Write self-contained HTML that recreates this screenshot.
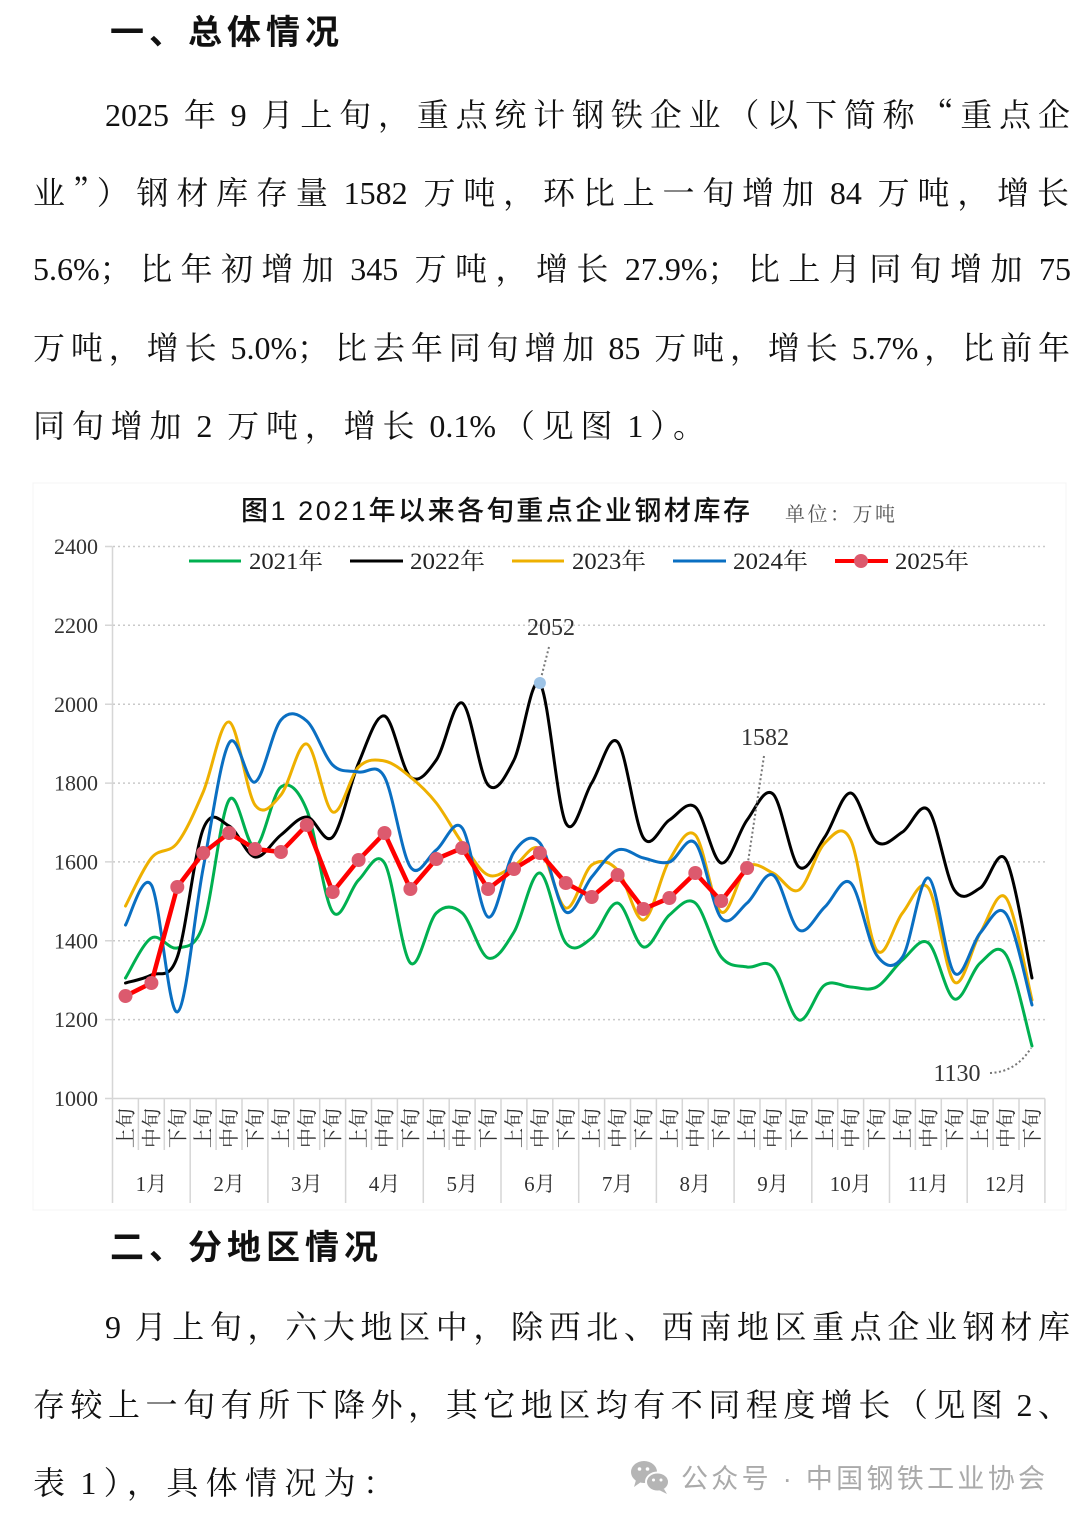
<!DOCTYPE html>
<html><head><meta charset="utf-8">
<style>
html,body{margin:0;padding:0;background:#fff;}
body{width:1080px;height:1522px;position:relative;overflow:hidden;}
svg{position:absolute;left:0;top:0;}
.p{position:absolute;font-family:"Liberation Serif","Noto Serif CJK SC",serif;font-size:32px;line-height:40px;height:40px;text-align:justify;text-align-last:justify;color:#111;}
.p .g{margin-left:8px;}
.p .q{font-family:"Noto Serif CJK SC",serif;}
.h{position:absolute;font-family:"Liberation Sans","Noto Sans CJK SC",sans-serif;font-weight:bold;font-size:34px;line-height:40px;letter-spacing:5px;color:#111;white-space:nowrap;}
.rl text{font-family:"Liberation Serif","Noto Serif CJK SC",serif;font-size:20px;fill:#333;text-anchor:middle;}
.ml text{font-family:"Liberation Serif","Noto Serif CJK SC",serif;font-size:21px;fill:#333;text-anchor:middle;}
.yl text{font-family:"Liberation Serif",serif;font-size:22px;fill:#333;text-anchor:end;}
.lg text{font-family:"Liberation Serif","Noto Serif CJK SC",serif;font-size:23px;fill:#222;}
</style></head>
<body>
<svg width="1080" height="1522" viewBox="0 0 1080 1522" xmlns="http://www.w3.org/2000/svg">
<rect x="33" y="483" width="1033" height="727" fill="none" stroke="#f4f4f4" stroke-width="1"/>
<text x="241" y="520" textLength="509" lengthAdjust="spacing" font-family="Liberation Sans, Noto Sans CJK SC, sans-serif" font-size="27" font-weight="500" fill="#111">图1  2021年以来各旬重点企业钢材库存</text>
<text x="785" y="521" textLength="110" lengthAdjust="spacing" font-family="Liberation Serif, Noto Serif CJK SC, serif" font-size="20" fill="#555">单位：万吨</text>
<g stroke="#c9c9c9" stroke-width="1.5" stroke-dasharray="2,3">
<line x1="113" y1="546.5" x2="1045" y2="546.5"/>
<line x1="113" y1="625.3" x2="1045" y2="625.3"/>
<line x1="113" y1="704.2" x2="1045" y2="704.2"/>
<line x1="113" y1="783.1" x2="1045" y2="783.1"/>
<line x1="113" y1="861.9" x2="1045" y2="861.9"/>
<line x1="113" y1="940.8" x2="1045" y2="940.8"/>
<line x1="113" y1="1019.6" x2="1045" y2="1019.6"/>
</g>
<g stroke="#d6d6d6" stroke-width="1.5" fill="none">
<line x1="112.5" y1="546.5" x2="112.5" y2="1098.5"/>
<line x1="105" y1="1098.5" x2="1045" y2="1098.5"/>
<path d="M105,546.5H112.5M105,625.3H112.5M105,704.2H112.5M105,783.1H112.5M105,861.9H112.5M105,940.8H112.5M105,1019.6H112.5"/>
<path d="M112.5,1098.5V1203M190.2,1098.5V1203M267.9,1098.5V1203M345.6,1098.5V1203M423.3,1098.5V1203M501,1098.5V1203M578.7,1098.5V1203M656.4,1098.5V1203M734.1,1098.5V1203M811.8,1098.5V1203M889.5,1098.5V1203M967.2,1098.5V1203M1044.9,1098.5V1203"/>
<path d="M138.4,1098.5V1150M164.3,1098.5V1150M216.1,1098.5V1150M242,1098.5V1150M293.8,1098.5V1150M319.7,1098.5V1150M371.5,1098.5V1150M397.4,1098.5V1150M449.2,1098.5V1150M475.1,1098.5V1150M526.9,1098.5V1150M552.8,1098.5V1150M604.6,1098.5V1150M630.5,1098.5V1150M682.3,1098.5V1150M708.2,1098.5V1150M760,1098.5V1150M785.9,1098.5V1150M837.7,1098.5V1150M863.6,1098.5V1150M915.4,1098.5V1150M941.3,1098.5V1150M993.1,1098.5V1150M1019,1098.5V1150"/>
</g>
<g class="yl">
<text x="98" y="554">2400</text>
<text x="98" y="633">2200</text>
<text x="98" y="712">2000</text>
<text x="98" y="790.5">1800</text>
<text x="98" y="869.5">1600</text>
<text x="98" y="948.5">1400</text>
<text x="98" y="1027">1200</text>
<text x="98" y="1106">1000</text>
</g>
<g class="rl">
<text transform="translate(125.5,1128) rotate(-90)" y="7">上旬</text>
<text transform="translate(151.4,1128) rotate(-90)" y="7">中旬</text>
<text transform="translate(177.3,1128) rotate(-90)" y="7">下旬</text>
<text transform="translate(203.2,1128) rotate(-90)" y="7">上旬</text>
<text transform="translate(229.1,1128) rotate(-90)" y="7">中旬</text>
<text transform="translate(255.0,1128) rotate(-90)" y="7">下旬</text>
<text transform="translate(280.9,1128) rotate(-90)" y="7">上旬</text>
<text transform="translate(306.8,1128) rotate(-90)" y="7">中旬</text>
<text transform="translate(332.7,1128) rotate(-90)" y="7">下旬</text>
<text transform="translate(358.6,1128) rotate(-90)" y="7">上旬</text>
<text transform="translate(384.5,1128) rotate(-90)" y="7">中旬</text>
<text transform="translate(410.4,1128) rotate(-90)" y="7">下旬</text>
<text transform="translate(436.3,1128) rotate(-90)" y="7">上旬</text>
<text transform="translate(462.2,1128) rotate(-90)" y="7">中旬</text>
<text transform="translate(488.1,1128) rotate(-90)" y="7">下旬</text>
<text transform="translate(514.0,1128) rotate(-90)" y="7">上旬</text>
<text transform="translate(539.9,1128) rotate(-90)" y="7">中旬</text>
<text transform="translate(565.8,1128) rotate(-90)" y="7">下旬</text>
<text transform="translate(591.7,1128) rotate(-90)" y="7">上旬</text>
<text transform="translate(617.6,1128) rotate(-90)" y="7">中旬</text>
<text transform="translate(643.5,1128) rotate(-90)" y="7">下旬</text>
<text transform="translate(669.4,1128) rotate(-90)" y="7">上旬</text>
<text transform="translate(695.3,1128) rotate(-90)" y="7">中旬</text>
<text transform="translate(721.2,1128) rotate(-90)" y="7">下旬</text>
<text transform="translate(747.1,1128) rotate(-90)" y="7">上旬</text>
<text transform="translate(773.0,1128) rotate(-90)" y="7">中旬</text>
<text transform="translate(798.9,1128) rotate(-90)" y="7">下旬</text>
<text transform="translate(824.8,1128) rotate(-90)" y="7">上旬</text>
<text transform="translate(850.7,1128) rotate(-90)" y="7">中旬</text>
<text transform="translate(876.6,1128) rotate(-90)" y="7">下旬</text>
<text transform="translate(902.5,1128) rotate(-90)" y="7">上旬</text>
<text transform="translate(928.4,1128) rotate(-90)" y="7">中旬</text>
<text transform="translate(954.3,1128) rotate(-90)" y="7">下旬</text>
<text transform="translate(980.2,1128) rotate(-90)" y="7">上旬</text>
<text transform="translate(1006.1,1128) rotate(-90)" y="7">中旬</text>
<text transform="translate(1032.0,1128) rotate(-90)" y="7">下旬</text>
</g>
<g class="ml">
<text x="151.4" y="1191">1月</text>
<text x="229.1" y="1191">2月</text>
<text x="306.8" y="1191">3月</text>
<text x="384.5" y="1191">4月</text>
<text x="462.2" y="1191">5月</text>
<text x="539.9" y="1191">6月</text>
<text x="617.6" y="1191">7月</text>
<text x="695.3" y="1191">8月</text>
<text x="773.0" y="1191">9月</text>
<text x="850.7" y="1191">10月</text>
<text x="928.4" y="1191">11月</text>
<text x="1006.1" y="1191">12月</text>
</g>
<g class="lg">
<line x1="189" y1="561" x2="241" y2="561" stroke="#00b050" stroke-width="3"/>
<text x="249" y="569" textLength="74" lengthAdjust="spacingAndGlyphs">2021年</text>
<line x1="350" y1="561" x2="403" y2="561" stroke="#000" stroke-width="3"/>
<text x="410" y="569" textLength="75" lengthAdjust="spacingAndGlyphs">2022年</text>
<line x1="512" y1="561" x2="564" y2="561" stroke="#eeb000" stroke-width="3"/>
<text x="572" y="569" textLength="74" lengthAdjust="spacingAndGlyphs">2023年</text>
<line x1="673" y1="561" x2="726" y2="561" stroke="#0a6fc2" stroke-width="3"/>
<text x="733" y="569" textLength="75" lengthAdjust="spacingAndGlyphs">2024年</text>
<line x1="835" y1="561" x2="888" y2="561" stroke="#ff0000" stroke-width="4"/>
<circle cx="861" cy="561" r="7" fill="#dc5a6e"/>
<text x="895" y="569" textLength="74" lengthAdjust="spacingAndGlyphs">2025年</text>
</g>
<g fill="none" stroke-linejoin="round" stroke-linecap="round">
<polyline class="sm" stroke="#00b050" stroke-width="3" points="125.5,978 151.4,938 177.3,948 203.2,925 229.1,800 255,847 280.9,787 306.8,810 332.7,912 358.6,880 384.5,863 410.4,963 436.3,913 462.2,913 488.1,958 514,932 539.9,873 565.8,943 591.7,938 617.6,903 643.5,947 669.4,915 695.3,903 721.2,957 747.1,967 773,967 798.9,1020 824.8,985 850.7,987 876.6,987 902.5,960 928.4,943 954.3,999 980.2,963 1006.1,955 1032,1046"/>
<polyline class="sm" stroke="#000" stroke-width="3" points="125.5,983 151.4,975 177.3,957 203.2,829 229.1,826 255,857 280.9,835 306.8,817 332.7,837 358.6,763 384.5,716 410.4,777 436.3,760 462.2,703 488.1,785 514,760 539.9,683.5 565.8,823 591.7,783 617.6,742 643.5,838 669.4,820 695.3,807 721.2,863 747.1,820 773,794 798.9,867 824.8,837 850.7,793 876.6,842 902.5,832 928.4,810 954.3,890 980.2,888 1006.1,860 1032,978"/>
<polyline class="sm" stroke="#eeb000" stroke-width="3" points="125.5,906 151.4,858 177.3,843 203.2,792 229.1,722 255,805 280.9,795 306.8,744 332.7,812 358.6,767 384.5,761 410.4,777 436.3,803 462.2,843 488.1,875 514,866 539.9,849 565.8,908 591.7,865 617.6,870 643.5,920 669.4,860 695.3,835 721.2,912 747.1,867 773,873 798.9,890 824.8,843 850.7,840 876.6,950 902.5,913 928.4,888 954.3,982 980.2,933 1006.1,898 1032,1000"/>
<polyline class="sm" stroke="#0a6fc2" stroke-width="3" points="125.5,925 151.4,885 177.3,1012 203.2,868 229.1,743 255,782 280.9,720 306.8,721 332.7,765 358.6,772 384.5,777 410.4,867 436.3,850 462.2,828 488.1,917 514,852 539.9,843 565.8,912 591.7,877 617.6,850 643.5,858 669.4,862 695.3,843 721.2,918 747.1,903 773,875 798.9,930 824.8,907 850.7,883 876.6,955 902.5,957 928.4,878 954.3,973 980.2,933 1006.1,914 1032,1005"/>
<polyline stroke="#ff0000" stroke-width="4.5" points="125.5,996 151.4,983 177.3,887 203.2,853 229.1,833 255,849 280.9,852 306.8,825 332.7,892 358.6,860 384.5,833 410.4,889 436.3,859 462.2,848 488.1,889 514,869 539.9,853 565.8,883 591.7,897 617.6,875 643.5,909 669.4,898 695.3,873 721.2,901 747.1,868"/>
</g>
<g fill="#dc5a6e">
<circle cx="125.5" cy="996" r="7"/><circle cx="151.4" cy="983" r="7"/><circle cx="177.3" cy="887" r="7"/><circle cx="203.2" cy="853" r="7"/><circle cx="229.1" cy="833" r="7"/><circle cx="255" cy="849" r="7"/><circle cx="280.9" cy="852" r="7"/><circle cx="306.8" cy="825" r="7"/><circle cx="332.7" cy="892" r="7"/><circle cx="358.6" cy="860" r="7"/><circle cx="384.5" cy="833" r="7"/><circle cx="410.4" cy="889" r="7"/><circle cx="436.3" cy="859" r="7"/><circle cx="462.2" cy="848" r="7"/><circle cx="488.1" cy="889" r="7"/><circle cx="514" cy="869" r="7"/><circle cx="539.9" cy="853" r="7"/><circle cx="565.8" cy="883" r="7"/><circle cx="591.7" cy="897" r="7"/><circle cx="617.6" cy="875" r="7"/><circle cx="643.5" cy="909" r="7"/><circle cx="669.4" cy="898" r="7"/><circle cx="695.3" cy="873" r="7"/><circle cx="721.2" cy="901" r="7"/><circle cx="747.1" cy="868" r="7"/>
</g>
<g stroke="#777" stroke-width="2" stroke-dasharray="2,2.5" fill="none">
<line x1="549" y1="647" x2="540.5" y2="680"/>
<line x1="764" y1="756" x2="748" y2="862"/>
<path d="M990,1073 Q1016,1072 1031,1048"/>
</g>
<circle cx="539.9" cy="683" r="6" fill="#9dc3e6"/>
<g font-family="Liberation Serif, serif" font-size="24" fill="#333" text-anchor="middle">
<text x="551" y="635">2052</text>
<text x="765" y="745">1582</text>
<text x="957" y="1081">1130</text>
</g>
<g fill="#b5b5b5">
<ellipse cx="644" cy="1472" rx="13" ry="11"/>
<ellipse cx="657.5" cy="1482" rx="11.5" ry="9.5" stroke="#fff" stroke-width="2"/>
<circle cx="639.5" cy="1469" r="1.8" fill="#fff"/><circle cx="647.5" cy="1469" r="1.8" fill="#fff"/>
<circle cx="653.5" cy="1480" r="1.5" fill="#fff"/><circle cx="661" cy="1480" r="1.5" fill="#fff"/>
<path d="M636,1480 L634,1487 L641,1482 Z"/>
<path d="M664,1489 L667,1494 L659,1490 Z"/>
</g>
<text x="681" y="1488" textLength="364" lengthAdjust="spacing" font-family="Liberation Sans, Noto Sans CJK SC, sans-serif" font-size="27" fill="#aaaaaa">公众号 · 中国钢铁工业协会</text>
</svg>

<div class="h" style="left:110px;top:13px;">一、总体情况</div>
<div class="p" style="left:105px;top:93px;width:965px;">2025<span class="g">年</span><span class="g">9</span><span class="g">月</span>上旬，重点统计钢铁企业（以下简称<span class="q">“</span>重点企</div>
<div class="p" style="left:33px;top:171px;width:1036px;">业<span class="q">”</span>）钢材库存量<span class="g">1582</span><span class="g">万</span>吨，环比上一旬增加<span class="g">84</span><span class="g">万</span>吨，增长</div>
<div class="p" style="left:33px;top:249px;width:1038px;">5.6%；比年初增加<span class="g">345</span><span class="g">万</span>吨，增长<span class="g">27.9%；</span>比上月同旬增加<span class="g">75</span></div>
<div class="p" style="left:33px;top:328px;width:1037px;">万吨，增长<span class="g">5.0%；</span>比去年同旬增加<span class="g">85</span><span class="g">万</span>吨，增长<span class="g">5.7%，</span>比前年</div>
<div class="p" style="left:33px;top:406px;width:672px;">同旬增加<span class="g">2</span><span class="g">万</span>吨，增长<span class="g">0.1%</span>（见图<span class="g">1</span>）。</div>

<div class="h" style="left:110px;top:1228px;">二、分地区情况</div>
<div class="p" style="left:105px;top:1307px;width:965px;">9<span class="g">月</span>上旬，六大地区中，除西北、西南地区重点企业钢材库</div>
<div class="p" style="left:33px;top:1385px;width:1037px;">存较上一旬有所下降外，其它地区均有不同程度增长（见图<span class="g">2</span>、</div>
<div class="p" style="left:33px;top:1463px;width:362px;">表<span class="g">1</span>），具体情况为：</div>

<script>
(function(){
  var ns="http://www.w3.org/2000/svg";
  var pls=document.querySelectorAll("polyline.sm");
  for(var k=0;k<pls.length;k++){
    var pl=pls[k];
    var raw=pl.getAttribute("points").trim().split(/\s+/);
    var p=raw.map(function(s){var a=s.split(",");return [parseFloat(a[0]),parseFloat(a[1])];});
    var d="M"+p[0][0]+","+p[0][1];
    for(var i=0;i<p.length-1;i++){
      var p0=p[i-1]||p[i],p1=p[i],p2=p[i+1],p3=p[i+2]||p[i+1];
      var c1x=p1[0]+(p2[0]-p0[0])/6,c1y=p1[1]+(p2[1]-p0[1])/6;
      var c2x=p2[0]-(p3[0]-p1[0])/6,c2y=p2[1]-(p3[1]-p1[1])/6;
      d+="C"+c1x.toFixed(2)+","+c1y.toFixed(2)+" "+c2x.toFixed(2)+","+c2y.toFixed(2)+" "+p2[0]+","+p2[1];
    }
    var path=document.createElementNS(ns,"path");
    path.setAttribute("d",d);
    path.setAttribute("stroke",pl.getAttribute("stroke"));
    path.setAttribute("stroke-width",pl.getAttribute("stroke-width"));
    path.setAttribute("fill","none");
    pl.parentNode.replaceChild(path,pl);
  }
})();
</script>
</body></html>
